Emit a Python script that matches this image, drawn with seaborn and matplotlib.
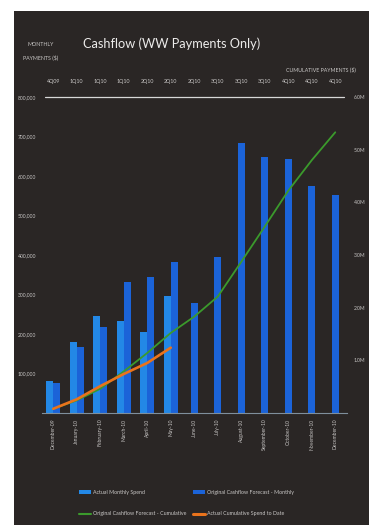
import numpy as np
import pandas as pd
import matplotlib
matplotlib.use("Agg")
import matplotlib.pyplot as plt
from matplotlib.patches import Rectangle
from matplotlib.lines import Line2D
from matplotlib.patches import Patch
import seaborn as sns

# ---- data -------------------------------------------------------------
months = ["December-09", "January-10", "February-10", "March-10", "April-10",
          "May-10", "June-10", "July-10", "August-10", "September-10",
          "October-10", "November-10", "December-10"]
quarters = ["4Q09", "1Q10", "1Q10", "1Q10", "2Q10", "2Q10", "2Q10",
            "3Q10", "3Q10", "3Q10", "4Q10", "4Q10", "4Q10"]

actual_monthly = [81000, 180000, 246000, 233000, 205000, 296000,
                  np.nan, np.nan, np.nan, np.nan, np.nan, np.nan, np.nan]
forecast_monthly = [76000, 167000, 218000, 332000, 344000, 382000, 278000,
                    395000, 684000, 648000, 643000, 575000, 552000]
forecast_cumulative = [80000, 240000, 460000, 790000, 1140000, 1520000, 1830000,
                       2210000, 2870000, 3540000, 4220000, 4800000, 5330000]
actual_cumulative = [80000, 260000, 510000, 740000, 950000, 1240000]

left_ticks = [100000, 200000, 300000, 400000, 500000, 600000, 700000, 800000]
right_ticks = [1000000, 2000000, 3000000, 4000000, 5000000, 6000000]

series_names = ["Actual Monthly Spend", "Original Cashflow Forecast - Monthly"]
line_names = ["Original Cashflow Forecast - Cumulative", "Actual Cumulative Spend to Date"]

# ---- styling ----------------------------------------------------------
sns.set_style("white")
plt.rcParams["font.family"] = ["Lato", "DejaVu Sans"]

BG = "#2a2625"
TXT = "#c9c7c6"
C_ACT = "#2388e6"
C_FC = "#1b63d8"
C_GREEN = "#3b9a2c"
C_ORANGE = "#ea731c"

W, H = 369, 525
fig = plt.figure(figsize=(W / 100, H / 100), dpi=100, facecolor="white")
fig.patches.append(Rectangle((14 / W, 0), 1 - 14 / W, (H - 11) / H,
                             transform=fig.transFigure, facecolor=BG,
                             edgecolor="none", zorder=-10))

ax = fig.add_axes([41.5 / W, 1 - 413 / H, 305.5 / W, 316 / H])
ax.set_facecolor("none")

bars = pd.DataFrame({
    "month": months * 2,
    "series": [series_names[0]] * len(months) + [series_names[1]] * len(months),
    "value": actual_monthly + forecast_monthly,
})
sns.barplot(data=bars, x="month", y="value", hue="series", order=months,
            hue_order=series_names, palette=[C_ACT, C_FC], width=0.6,
            dodge=True, saturation=1, errorbar=None, legend=False,
            linewidth=0, edgecolor="none", ax=ax)

# months with no actual spend: centre the single forecast bar
fc_container = ax.containers[1]
for i, patch in enumerate(fc_container.patches):
    if np.isnan(actual_monthly[i]):
        w = patch.get_width()
        patch.set_x(i - w / 2)

ax.set_xlim(-0.5, len(months) - 0.5)
ax.set_ylim(0, 800000)
ax.set_yticks(left_ticks)
ax.set_yticklabels([f"{v:,.0f}" for v in left_ticks])
ax.set_xlabel("")
ax.set_ylabel("")
ax.tick_params(axis="y", length=0, pad=4, labelsize=3.6, labelcolor=TXT)
ax.tick_params(axis="x", length=0, pad=4, labelsize=3.6, labelcolor=TXT,
               labelrotation=90)
for s in ["left", "right", "top"]:
    ax.spines[s].set_visible(False)
ax.spines["bottom"].set_color("#7f8f9c")
ax.spines["bottom"].set_linewidth(0.8)
ax.axhline(800000, color="#d8d8d8", lw=0.9, xmin=0.01, xmax=0.99, clip_on=False)

# quarter labels along the top
sec = ax.secondary_xaxis("top")
sec.set_xticks(range(len(quarters)))
sec.set_xticklabels(quarters)
sec.tick_params(length=0, pad=9, labelsize=3.8, labelcolor=TXT)
for s in sec.spines.values():
    s.set_visible(False)

# cumulative lines on the right axis
ax2 = ax.twinx()
ax2.set_facecolor("none")
x_pos = list(range(len(months)))
sns.lineplot(x=x_pos, y=forecast_cumulative, color=C_GREEN, lw=1.3, ax=ax2)
sns.lineplot(x=x_pos[:len(actual_cumulative)], y=actual_cumulative,
             color=C_ORANGE, lw=1.9, ax=ax2)
ax2.set_ylim(0, 6000000)
ax2.set_yticks(right_ticks)
ax2.set_yticklabels([f"{v / 1e6:.1f}M" for v in right_ticks])
ax2.tick_params(axis="y", length=0, pad=5, labelsize=3.6, labelcolor=TXT)
for s in ax2.spines.values():
    s.set_visible(False)
ax.set_xlim(-0.5, len(months) - 0.5)

# titles
fig.text(172 / W, 1 - 44 / H, "Cashflow (WW Payments Only)", ha="center",
         va="center", fontsize=9.2, color="#ecebea")
fig.text(41 / W, 1 - 44 / H, "MONTHLY", ha="center", va="center",
         fontsize=3.8, color=TXT)
fig.text(41 / W, 1 - 57 / H, "PAYMENTS ($)", ha="center", va="center",
         fontsize=3.8, color=TXT)
fig.text(356 / W, 1 - 69 / H, "CUMULATIVE PAYMENTS ($)", ha="right",
         va="center", fontsize=3.8, color=TXT)

# legend
handles = [
    Patch(facecolor=C_ACT, edgecolor="none", label=series_names[0]),
    Line2D([], [], color=C_GREEN, lw=1.5, label=line_names[0]),
    Patch(facecolor=C_FC, edgecolor="none", label=series_names[1]),
    Line2D([], [], color=C_ORANGE, lw=2.2, label=line_names[1]),
]
fig.legend(handles=handles, ncol=2, loc="center left",
           bbox_to_anchor=(74 / W, 1 - 503 / H), frameon=False,
           fontsize=3.8, labelcolor=TXT, handlelength=2.4, handleheight=0.8,
           columnspacing=1.2, labelspacing=3.2, handletextpad=0.3)

fig.savefig("out.png", dpi=100, facecolor=fig.get_facecolor())
